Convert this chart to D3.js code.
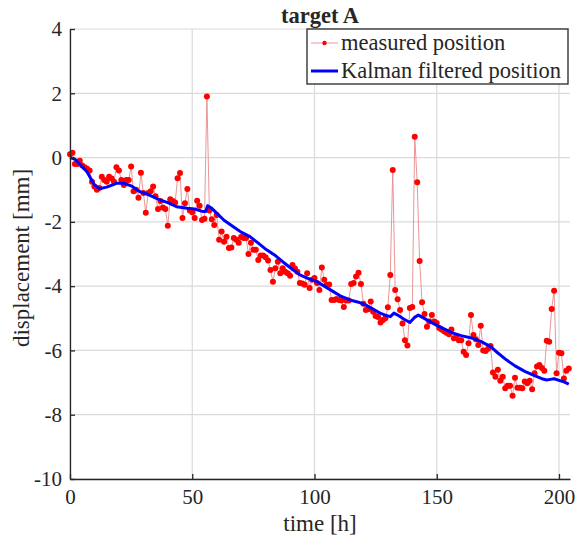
<!DOCTYPE html>
<html>
<head>
<meta charset="utf-8">
<script src="https://cdn.jsdelivr.net/npm/d3@7"></script>
<style>
  html, body { margin: 0; padding: 0; background: #fff; }
  svg { display: block; }
  text { font-family: "Liberation Serif", "Times New Roman", serif; fill: #262626; }
</style>
</head>
<body>
<div id="chart"></div>
<script>
// ---- data ----
const title = "target A";
const xLabel = "time [h]";
const yLabel = "displacement [mm]";
const xTicks = [0, 50, 100, 150, 200];
const yTicks = [-10, -8, -6, -4, -2, 0, 2, 4];
const seriesNames = ["measured position", "Kalman filtered position"];

// measured position, one sample per hour starting at t = 0 h
const measured = [
  0.1, 0.15, -0.2, -0.2, -0.1, -0.25, -0.3, -0.35, -0.4, -0.75,
  -0.9, -1.0, -0.95, -0.6, -0.7, -0.75, -0.6, -0.65, -0.75, -0.3,
  -0.4, -0.7, -0.85, -0.7, -0.7, -0.28, -1.05, -1.0, -1.25, -0.47,
  -1.1, -1.72, -1.1, -1.05, -0.9, -1.2, -1.6, -1.35, -1.55, -1.6,
  -2.12, -1.3, -1.35, -1.4, -0.64, -0.48, -1.88, -1.42, -0.98, -1.65,
  -1.7, -1.88, -1.34, -1.5, -1.94, -1.9, 1.9, -1.65, -1.92, -2.1,
  -1.79, -2.56, -2.3, -2.62, -2.46, -2.81, -2.8, -2.5, -2.56, -2.65,
  -2.47, -2.5, -2.5, -3.0, -2.65, -2.87, -2.87, -3.19, -3.05, -3.05,
  -3.1, -3.2, -3.5, -3.86, -3.44, -3.24, -3.6, -3.44, -3.55, -3.6,
  -3.68, -3.34, -3.45, -3.55, -3.9, -3.92, -3.96, -3.6, -4.06, -3.8,
  -3.75, -3.9, -4.12, -3.42, -3.8, -3.96, -3.95, -4.43, -4.43, -4.4,
  -4.43, -4.45, -4.65, -4.45, -4.45, -3.93, -3.9, -3.7, -3.58, -3.93,
  -4.55, -4.74, -4.72, -4.48, -4.8, -4.93, -4.96, -5.13, -5.05, -5.0,
  -4.66, -3.65, -0.39, -4.12, -4.41, -4.74, -5.16, -5.68, -5.85, -4.68,
  -4.65, 0.65, -0.77, -3.22, -4.5, -4.87, -5.26, -5.1, -4.9, -5.1,
  -5.15, -5.3, -5.35, -5.4, -5.45, -5.5, -5.35, -5.62, -5.6, -5.68,
  -5.68, -6.04, -6.14, -5.78, -4.9, -5.52, -5.65, -5.83, -5.23, -6.0,
  -6.02, -5.95, -5.86, -6.69, -6.82, -6.6, -6.94, -6.82, -7.18, -7.1,
  -7.1, -7.41, -6.85, -7.16, -7.16, -7.18, -6.97, -7.02, -6.94, -7.21,
  -6.71, -6.5, -6.45, -6.55, -6.63, -5.7, -5.73, -4.71, -4.14, -6.71,
  -6.07, -6.09, -6.87, -6.63, -6.56
];

// Kalman filtered position: times [h] and values [mm]
const kalmanT = [0, 2, 4, 7, 10, 12, 15, 19, 22, 25, 28.6, 32, 36.8, 40, 43.6, 48, 51, 54.5,
  55.5, 56.3, 58, 60, 63, 66.8, 70, 73.6, 77, 80.4, 84, 87, 90, 94, 97, 101, 104, 107.7,
  111, 114.5, 118, 121, 122.7, 125, 126.8, 129, 131, 132.5, 134, 136.5, 139, 140.8, 142.5,
  146, 150, 153, 156.7, 160, 165, 168, 172, 175, 178.6, 182, 186, 189.5, 193, 195, 196.5,
  198, 200, 202, 204];
const kalmanV = [0, -0.05, -0.2, -0.45, -0.85, -0.97, -0.92, -0.8, -0.8, -0.88, -1.06, -1.15, -1.32, -1.4, -1.53, -1.58, -1.6, -1.68,
  -1.68, -1.5, -1.58, -1.73, -1.95, -2.15, -2.32, -2.46, -2.66, -2.87, -3.05, -3.24, -3.42, -3.65, -3.75, -3.86, -4.0, -4.17,
  -4.32, -4.43, -4.5, -4.59, -4.66, -4.76, -4.84, -4.9, -4.95, -4.84, -4.9, -5.02, -5.13, -4.98, -4.9,
  -5.05, -5.22, -5.33, -5.46, -5.54, -5.63, -5.72, -5.88, -6.08, -6.3, -6.48, -6.65, -6.77, -6.88, -6.92, -6.9,
  -6.88, -6.93, -6.98, -7.05];

// ---- layout ----
const W = 576, H = 540;
const margin = { left: 70, right: 6, top: 29, bottom: 61 };
const innerW = W - margin.left - margin.right;
const innerH = H - margin.top - margin.bottom;

const svg = d3.select("#chart").append("svg").attr("width", W).attr("height", H);
const g = svg.append("g").attr("transform", `translate(${margin.left},${margin.top})`);

const x = d3.scaleLinear().domain([0, 204.5]).range([0, innerW]);
const y = d3.scaleLinear().domain([-10, 4]).range([innerH, 0]);

// grid
g.append("g").selectAll("line.vx").data(xTicks).join("line")
  .attr("x1", d => x(d)).attr("x2", d => x(d)).attr("y1", 0).attr("y2", innerH)
  .attr("stroke", "#dadada").attr("stroke-width", 1.2);
g.append("g").selectAll("line.hy").data(yTicks).join("line")
  .attr("x1", 0).attr("x2", innerW).attr("y1", d => y(d)).attr("y2", d => y(d))
  .attr("stroke", "#dadada").attr("stroke-width", 1.2);

// measured series
const measPts = measured.map((v, i) => [i, v]);
const line = d3.line().x(d => x(d[0])).y(d => y(d[1]));
g.append("path").datum(measPts).attr("d", line)
  .attr("fill", "none").attr("stroke", "#e88a8a").attr("stroke-width", 0.9);
g.append("g").selectAll("circle").data(measPts).join("circle")
  .attr("cx", d => x(d[0])).attr("cy", d => y(d[1])).attr("r", 3)
  .attr("fill", "#ff0000");

// Kalman series
const kalPts = kalmanT.map((t, i) => [t, kalmanV[i]]);
g.append("path").datum(kalPts).attr("d", line)
  .attr("fill", "none").attr("stroke", "#0000ff").attr("stroke-width", 3)
  .attr("stroke-linejoin", "round");

// axes
const xAxis = d3.axisBottom(x).tickValues(xTicks).tickSizeInner(-5).tickSizeOuter(0).tickPadding(10).tickFormat(d3.format("d"));
const yAxis = d3.axisLeft(y).tickValues(yTicks).tickSizeInner(-5).tickSizeOuter(0).tickPadding(8).tickFormat(d => String(d));
const gx = g.append("g").attr("transform", `translate(0,${innerH})`).call(xAxis);
const gy = g.append("g").call(yAxis);
[gx, gy].forEach(a => {
  a.select(".domain").attr("stroke", "#262626").attr("stroke-width", 1.3);
  a.selectAll(".tick line").attr("stroke", "#262626").attr("stroke-width", 1.3);
  a.selectAll(".tick text").style("font-family", '"Liberation Serif", serif').style("font-size", "21px").attr("fill", "#262626");
});
gx.selectAll(".tick text").attr("dy", "0.71em");

// labels
svg.append("text").attr("x", margin.left + innerW / 2).attr("y", 23)
  .attr("text-anchor", "middle").style("font-size", "22.5px").style("font-weight", "bold").attr("fill", "#000")
  .text(title);
svg.append("text").attr("x", margin.left + innerW / 2).attr("y", 531)
  .attr("text-anchor", "middle").style("font-size", "23px").text(xLabel);
svg.append("text").attr("transform", `translate(29,${margin.top + innerH / 2 + 4}) rotate(-90)`)
  .attr("text-anchor", "middle").style("font-size", "23px").text(yLabel);

// legend
const lg = svg.append("g");
lg.append("rect").attr("x", 307).attr("y", 29).attr("width", 261).attr("height", 55)
  .attr("fill", "#fff").attr("stroke", "#262626").attr("stroke-width", 1.3);
const rows = [43, 71];
lg.append("line").attr("x1", 311).attr("x2", 338).attr("y1", rows[0]).attr("y2", rows[0])
  .attr("stroke", "#e88a8a").attr("stroke-width", 0.9);
lg.append("circle").attr("cx", 324.5).attr("cy", rows[0]).attr("r", 2.2).attr("fill", "#ff0000");
lg.append("line").attr("x1", 311).attr("x2", 338).attr("y1", rows[1]).attr("y2", rows[1])
  .attr("stroke", "#0000ff").attr("stroke-width", 3);
seriesNames.forEach((n, i) => {
  lg.append("text").attr("x", 341).attr("y", rows[i]).attr("dy", "0.33em")
    .style("font-size", "22.5px").attr("fill", "#000").text(n);
});
</script>
</body>
</html>
